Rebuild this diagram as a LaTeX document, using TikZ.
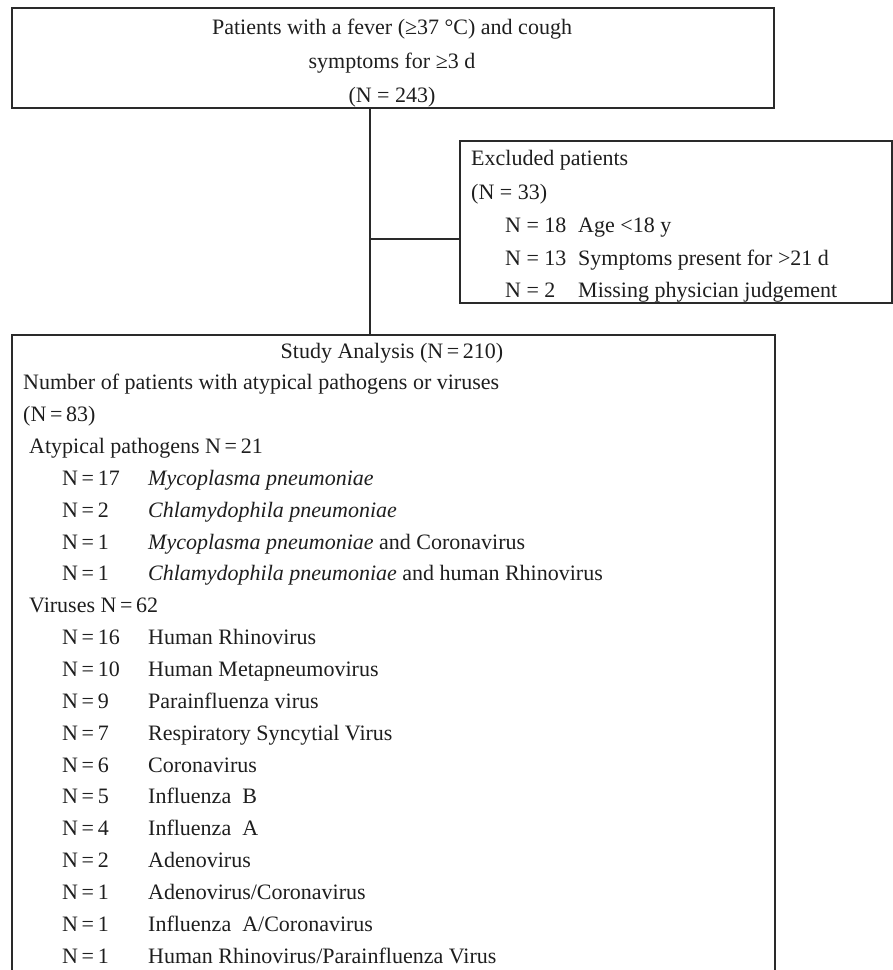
\documentclass[tikz,border=0pt]{standalone}
\usepackage{fontspec}
\setmainfont{Liberation Serif}
\definecolor{ink}{HTML}{1E1E1E}
\definecolor{edge}{HTML}{2A2A2A}
\begin{document}
\begin{tikzpicture}[x=1pt,y=-1pt,
  box/.style={draw=edge,line width=1.8pt,rectangle,inner sep=0pt,anchor=north west},
  conn/.style={draw=edge,line width=1.6pt},
  txt/.style={anchor=base west,inner sep=0pt,text=ink,font=\fontsize{22}{26}\selectfont},
  ctxt/.style={txt,anchor=base}]
\clip (0,0) rectangle (893,970);
% boxes
\node[box,minimum width=762pt,minimum height=100pt] (top) at (11,7) {};
\node[box,minimum width=432pt,minimum height=162pt] (excl) at (459,140) {};
\node[box,minimum width=763pt,minimum height=700pt] (study) at (11,334) {};
% connectors
\coordinate (sp) at (370,239);
\draw[conn] (sp |- top.south) -- (sp |- study.north);
\draw[conn] (sp) -- (sp -| excl.west);
% top box text
\node[ctxt] (a1) at (392,34) {Patients with a fever (≥37 °C) and cough};
\node[ctxt] (a2) at (392,68) {symptoms for ≥3 d};
\node[ctxt] (a3) at (392,102) {(N = 243)};
% excluded text
\node[txt] (e1) at (471,165) {Excluded patients};
\node[txt] (e2) at (471,199) {(N = 33)};
\node[txt] (e3) at (505,232) {N = 18};
\node[txt] (e3b) at (578,232) {Age <18 y};
\node[txt] (e4) at (505,265) {N = 13};
\node[txt] (e4b) at (578,265) {Symptoms present for >21 d};
\node[txt] (e5) at (505,297) {N = 2};
\node[txt] (e5b) at (578,297) {Missing physician judgement};
% study text
\node[ctxt] (s0) at (392,358) {Study Analysis (N\,=\,210)};
\node[txt] (s1) at (23,389.85) {Number of patients with atypical pathogens or viruses};
\node[txt] (s2) at (23,421.7) {(N\,=\,83)};
\node[txt] (s3) at (29,453.55) {Atypical pathogens N\,=\,21};
\node[txt] (n4) at (62,485.4) {N\,=\,17};
\node[txt] (m4) at (148,485.4) {\itshape Mycoplasma pneumoniae};
\node[txt] (n5) at (62,517.25) {N\,=\,2};
\node[txt] (m5) at (148,517.25) {\itshape Chlamydophila pneumoniae};
\node[txt] (n6) at (62,549.1) {N\,=\,1};
\node[txt] (m6) at (148,549.1) {\textit{Mycoplasma pneumoniae} and Coronavirus};
\node[txt] (n7) at (62,580.95) {N\,=\,1};
\node[txt] (m7) at (148,580.95) {\textit{Chlamydophila pneumoniae} and human Rhinovirus};
\node[txt] (s8) at (29,612.8) {Viruses N\,=\,62};
\node[txt] (n9) at (62,644.65) {N\,=\,16};
\node[txt] (m9) at (148,644.65) {Human Rhinovirus};
\node[txt] (n10) at (62,676.5) {N\,=\,10};
\node[txt] (m10) at (148,676.5) {Human Metapneumovirus};
\node[txt] (n11) at (62,708.35) {N\,=\,9};
\node[txt] (m11) at (148,708.35) {Parainfluenza virus};
\node[txt] (n12) at (62,740.2) {N\,=\,7};
\node[txt] (m12) at (148,740.2) {Respiratory Syncytial Virus};
\node[txt] (n13) at (62,772.05) {N\,=\,6};
\node[txt] (m13) at (148,772.05) {Coronavirus};
\node[txt] (n14) at (62,803.9) {N\,=\,5};
\node[txt] (m14) at (148,803.9) {Influenza\ \ B};
\node[txt] (n15) at (62,835.75) {N\,=\,4};
\node[txt] (m15) at (148,835.75) {Influenza\ \ A};
\node[txt] (n16) at (62,867.6) {N\,=\,2};
\node[txt] (m16) at (148,867.6) {Adenovirus};
\node[txt] (n17) at (62,899.45) {N\,=\,1};
\node[txt] (m17) at (148,899.45) {Adenovirus/Coronavirus};
\node[txt] (n18) at (62,931.3) {N\,=\,1};
\node[txt] (m18) at (148,931.3) {Influenza\ \ A/Coronavirus};
\node[txt] (n19) at (62,963.15) {N\,=\,1};
\node[txt] (m19) at (148,963.15) {Human Rhinovirus/Parainfluenza Virus};
\end{tikzpicture}
\end{document}
